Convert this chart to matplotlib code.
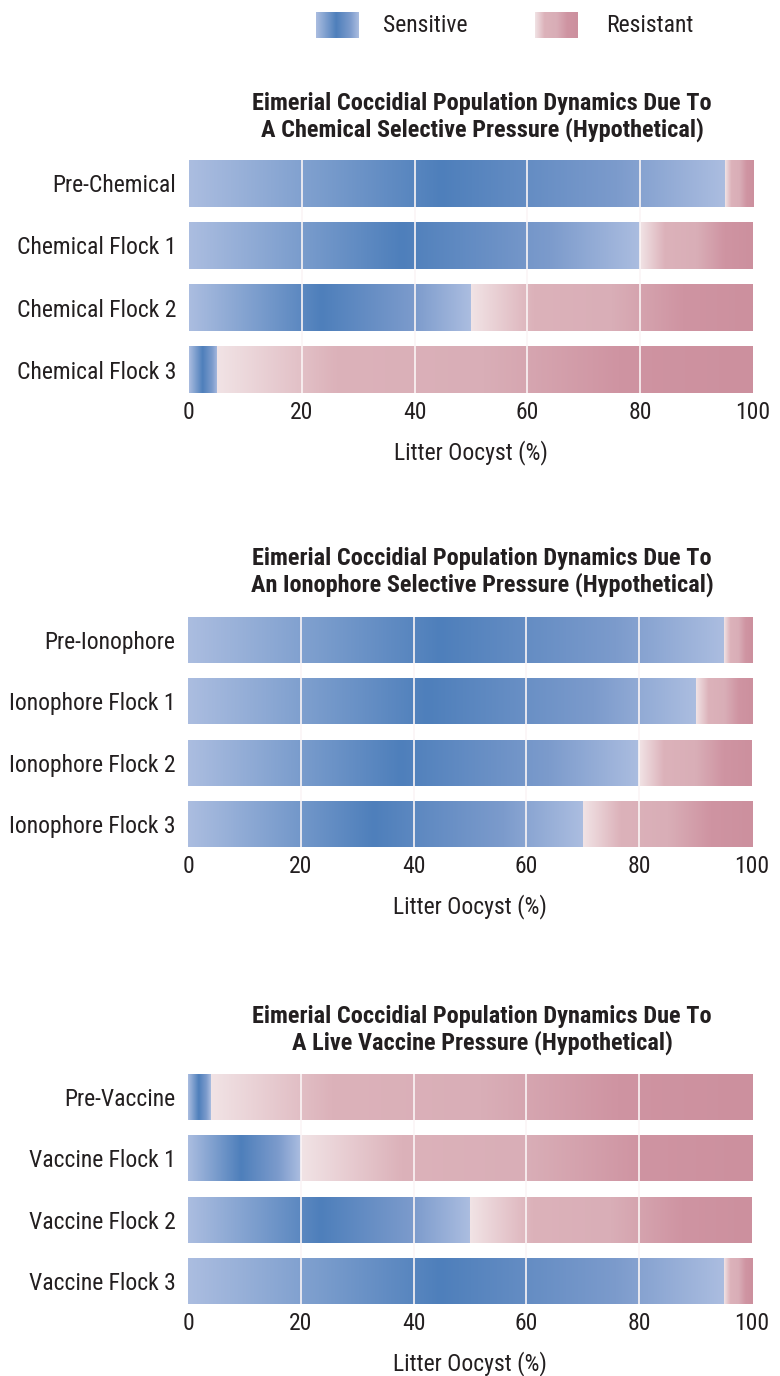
import numpy as np
import matplotlib
matplotlib.use("Agg")
import matplotlib.pyplot as plt
from matplotlib.colors import LinearSegmentedColormap

plt.rcParams['font.family'] = ['Roboto Condensed', 'Liberation Sans Narrow', 'Archivo Narrow', 'DejaVu Sans']

# data
chem_labels = ["Pre-Chemical", "Chemical Flock 1", "Chemical Flock 2", "Chemical Flock 3"]
chem_sensitive = [95, 80, 50, 5]
chem_resistant = [5, 20, 50, 95]

iono_labels = ["Pre-Ionophore", "Ionophore Flock 1", "Ionophore Flock 2", "Ionophore Flock 3"]
iono_sensitive = [95, 90, 80, 70]
iono_resistant = [5, 10, 20, 30]

vacc_labels = ["Pre-Vaccine", "Vaccine Flock 1", "Vaccine Flock 2", "Vaccine Flock 3"]
vacc_sensitive = [4, 20, 50, 95]
vacc_resistant = [96, 80, 50, 5]

titles = [
    "Eimerial Coccidial Population Dynamics Due To\nA Chemical Selective Pressure (Hypothetical)",
    "Eimerial Coccidial Population Dynamics Due To\nAn Ionophore Selective Pressure (Hypothetical)",
    "Eimerial Coccidial Population Dynamics Due To\nA Live Vaccine Pressure (Hypothetical)",
]
xticks = [0, 20, 40, 60, 80, 100]

# colours
sens_cmap = LinearSegmentedColormap.from_list(
    "sens", [(0, "#abbde0"), (0.47, "#4e7fbb"), (0.8, "#7c9bcc"), (1, "#abbde0")])
res_cmap = LinearSegmentedColormap.from_list(
    "res", [(0, "#f1e3e5"), (0.22, "#dcb2ba"), (0.5, "#d9aeb7"), (0.75, "#cf94a2"), (1, "#cc909e")])
grad = np.linspace(0, 1, 256).reshape(1, -1)
text_col = "#231f20"
fs = 17

W, H = 780, 1376
fig = plt.figure(figsize=(W / 100, H / 100), dpi=100)


def fill_gradient(ax, bars, cmap):
    for bar in bars:
        x0, y0 = bar.get_x(), bar.get_y()
        w, h = bar.get_width(), bar.get_height()
        if w <= 0:
            continue
        ax.imshow(grad, cmap=cmap, aspect="auto", interpolation="bilinear",
                  extent=[x0, x0 + w, y0 + h, y0], zorder=1)
        bar.set_visible(False)


def panel(rect, labels, sens, res, title, title_y):
    ax = fig.add_axes(rect)
    y = np.arange(len(labels))
    b1 = ax.barh(y, sens, height=0.75)
    b2 = ax.barh(y, res, left=sens, height=0.75)
    fill_gradient(ax, b1, sens_cmap)
    fill_gradient(ax, b2, res_cmap)
    for t in xticks[1:-1]:
        ax.axvline(t, color="#fbf5f6", lw=1.2, zorder=3)
    ax.set_xlim(0, 100)
    ax.set_ylim(len(labels) - 0.625, -0.375)
    ax.set_yticks(y)
    ax.set_yticklabels(labels)
    ax.set_xticks(xticks)
    ax.tick_params(length=0, labelsize=fs, colors=text_col)
    ax.tick_params(axis="y", pad=9)
    ax.tick_params(axis="x", pad=6)
    for s in ax.spines.values():
        s.set_visible(False)
    ax.set_xlabel("Litter Oocyst (%)", fontsize=fs, color=text_col, labelpad=11)
    fig.text(482 / W, 1 - title_y / H, title, ha="center", va="center",
             fontsize=17.5, fontweight="bold", color=text_col, linespacing=1.17)
    return ax


def px_rect(left, top, right, bottom):
    return [left / W, 1 - bottom / H, (right - left) / W, (bottom - top) / H]


panel(px_rect(189, 160, 753, 393), chem_labels, chem_sensitive, chem_resistant, titles[0], 117)
panel(px_rect(188, 617, 752, 847), iono_labels, iono_sensitive, iono_resistant, titles[1], 572)
panel(px_rect(188, 1074, 752, 1304), vacc_labels, vacc_sensitive, vacc_resistant, titles[2], 1030)

# legend
for (x0, cmap, text, tx) in [(316, sens_cmap, "Sensitive", 383), (535, res_cmap, "Resistant", 606)]:
    lax = fig.add_axes(px_rect(x0, 12, x0 + 43, 38))
    lax.imshow(grad, cmap=cmap, aspect="auto", interpolation="bilinear")
    lax.axis("off")
    fig.text(tx / W, 1 - 25 / H, text, ha="left", va="center", fontsize=fs, color=text_col)

fig.savefig("out.png", dpi=100)
